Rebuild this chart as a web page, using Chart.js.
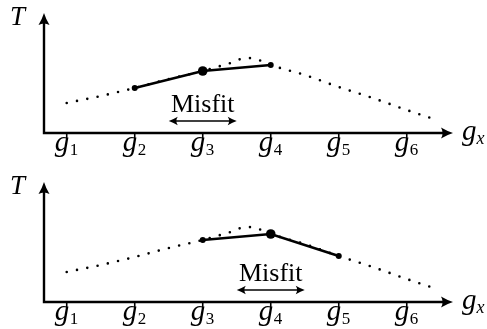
<!DOCTYPE html>
<html>
<head>
<meta charset="utf-8">
<script src="https://cdn.jsdelivr.net/npm/chart.js@4/dist/chart.umd.min.js"></script>
<style>
  html, body { margin: 0; padding: 0; background: #fff; }
  #wrap { position: relative; width: 487px; height: 329px; overflow: hidden; }
  canvas { position: absolute; left: 0; }
  #c1 { top: 0; }
  #c2 { top: 165px; }
</style>
</head>
<body>
<div id="wrap">
  <canvas id="c1" width="487" height="165"></canvas>
  <canvas id="c2" width="487" height="164"></canvas>
</div>
<script>
// ---- data (x in grid units g1..g6, T in arbitrary units) ----
const tickValues = [1, 2, 3, 4, 5, 6];
const tickBase = 'g';
const tickSubs = ['1', '2', '3', '4', '5', '6'];
const xAxisLabel = ['g', 'x'];
const yAxisLabel = 'T';

// true (dotted) temperature curve
const curveX = [1, 1.5, 2, 2.5, 3, 3.2, 3.37, 3.51, 3.66, 3.82, 4, 4.5, 5, 5.5, 6, 6.35];
const curveT = [30, 37, 45, 54, 62, 66, 69, 73, 75, 73, 68, 58, 46, 35, 23, 15];

// piecewise fits (solid)
const fitX1 = [2, 3, 4];
const fitT1 = [45, 62, 68];
const fitX2 = [3, 4, 5];
const fitT2 = [62, 68, 46];

// misfit annotations
const misfitLabel = 'Misfit';
const misfitRange1 = [2.5, 3.5];
const misfitRange2 = [3.5, 4.5];
const misfitCenters = [3, 4];
const misfitTextT = 21;
const misfitArrowT = 12;

function stealth(ctx, x, y, angle, len, half, notch) {
  ctx.save();
  ctx.translate(x, y);
  ctx.rotate(angle);
  ctx.beginPath();
  ctx.moveTo(0, 0);
  ctx.quadraticCurveTo(-len * 0.45, -half * 0.3, -len, -half);
  ctx.quadraticCurveTo(-len + notch * 2, 0, -len, half);
  ctx.quadraticCurveTo(-len * 0.45, half * 0.3, 0, 0);
  ctx.closePath();
  ctx.fill();
  ctx.restore();
}

const diagramPlugin = {
  id: 'diagram',
  afterDraw(chart, args, opts) {
    const ctx = chart.ctx;
    const a = chart.chartArea;
    const xs = chart.scales.x, ys = chart.scales.y;
    ctx.save();
    ctx.fillStyle = '#000';
    ctx.strokeStyle = '#000';
    // axes
    ctx.lineWidth = 2.4;
    ctx.lineCap = 'butt';
    ctx.beginPath();
    ctx.moveTo(a.left, a.top + 6);
    ctx.lineTo(a.left, a.bottom);
    ctx.lineTo(a.right - 6, a.bottom);
    ctx.stroke();
    stealth(ctx, a.left, a.top, -Math.PI / 2, 12, 5.5, 1.6);
    stealth(ctx, a.right, a.bottom, 0, 12, 5.5, 1.6);
    // ticks
    ctx.lineWidth = 1.6;
    tickValues.forEach(v => {
      const px = xs.getPixelForValue(v);
      ctx.beginPath();
      ctx.moveTo(px, a.bottom);
      ctx.lineTo(px, a.bottom + 5);
      ctx.stroke();
    });
    // tick labels
    ctx.textBaseline = 'alphabetic';
    ctx.textAlign = 'left';
    const gFont = 'italic 29px "Liberation Serif", serif';
    const sFont = '17px "Liberation Serif", serif';
    tickValues.forEach((v, i) => {
      const px = xs.getPixelForValue(v);
      ctx.font = gFont;
      const wg = ctx.measureText(tickBase).width;
      ctx.font = sFont;
      const ws = ctx.measureText(tickSubs[i]).width;
      const x0 = px - (wg + ws) / 2 - 0.5;
      ctx.font = gFont;
      ctx.fillText(tickBase, x0, a.bottom + 18);
      ctx.font = sFont;
      ctx.fillText(tickSubs[i], x0 + wg + 0.5, a.bottom + 22);
    });
    // axis labels
    ctx.font = gFont;
    ctx.fillText(xAxisLabel[0], a.right + 9, a.bottom + 7);
    const wgx = ctx.measureText(xAxisLabel[0]).width;
    ctx.font = 'italic 18px "Liberation Serif", serif';
    ctx.fillText(xAxisLabel[1], a.right + 9 + wgx, a.bottom + 11);
    ctx.font = 'italic 27px "Liberation Serif", serif';
    ctx.fillText(yAxisLabel, 10, a.top + 12);
    // misfit annotation
    const r = opts.range, c = opts.center;
    const cx = xs.getPixelForValue(c);
    ctx.font = '26px "Liberation Serif", serif';
    ctx.textAlign = 'center';
    ctx.fillText(misfitLabel, cx, ys.getPixelForValue(misfitTextT));
    const ay = ys.getPixelForValue(misfitArrowT);
    const x1 = xs.getPixelForValue(r[0]), x2 = xs.getPixelForValue(r[1]);
    ctx.lineWidth = 1.6;
    ctx.beginPath();
    ctx.moveTo(x1 + 3, ay);
    ctx.lineTo(x2 - 3, ay);
    ctx.stroke();
    stealth(ctx, x2, ay, 0, 9, 4.2, 1.4);
    stealth(ctx, x1, ay, Math.PI, 9, 4.2, 1.4);
    ctx.restore();
  }
};

function makeChart(id, fitX, fitT, bigIndex, range, center, padTop, padBottom) {
  const curve = curveX.map((x, i) => ({ x: x, y: curveT[i] }));
  const fit = fitX.map((x, i) => ({ x: x, y: fitT[i] }));
  return new Chart(document.getElementById(id), {
    type: 'line',
    data: {
      datasets: [
        {
          data: curve,
          borderColor: '#000',
          borderWidth: 2.6,
          borderDash: [0, 10.5],
          borderCapStyle: 'round',
          cubicInterpolationMode: 'monotone',
          pointRadius: 0,
          fill: false
        },
        {
          data: fit,
          borderColor: '#000',
          backgroundColor: '#000',
          borderWidth: 2.7,
          tension: 0,
          pointRadius: fit.map((_, i) => i === bigIndex ? 4.8 : 3),
          pointBorderWidth: 0,
          pointBackgroundColor: '#000',
          fill: false
        }
      ]
    },
    options: {
      responsive: false,
      animation: false,
      devicePixelRatio: 1,
      layout: { padding: { left: 44, right: 34, top: padTop, bottom: padBottom } },
      plugins: {
        legend: { display: false },
        tooltip: { enabled: false },
        diagram: { range: range, center: center }
      },
      scales: {
        x: { type: 'linear', min: 0.666, max: 6.68, display: false },
        y: { type: 'linear', min: 0, max: 120, display: false }
      },
      clip: false
    },
    plugins: [diagramPlugin]
  });
}

makeChart('c1', fitX1, fitT1, 1, misfitRange1, misfitCenters[0], 13, 32);
makeChart('c2', fitX2, fitT2, 1, misfitRange2, misfitCenters[1], 17, 27);
</script>
</body>
</html>
